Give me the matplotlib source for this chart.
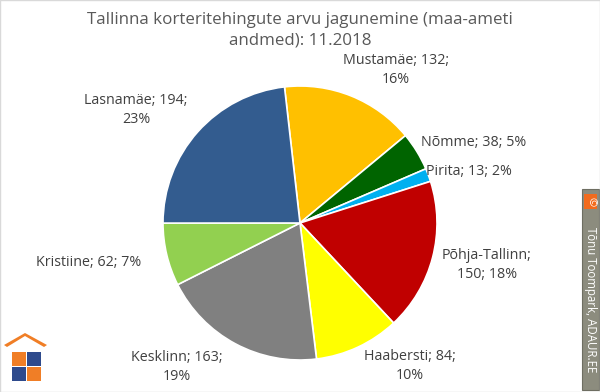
import matplotlib.pyplot as plt
from matplotlib.patches import Rectangle, Polygon

plt.rcParams['font.family'] = ['Open Sans', 'DejaVu Sans']

districts = ["Mustamäe", "Nõmme", "Pirita", "Põhja-Tallinn", "Haabersti",
             "Kesklinn", "Kristiine", "Lasnamäe"]
deals = [132, 38, 13, 150, 84, 163, 62, 194]
colors = ["#FFC000", "#006400", "#00B0F0", "#C00000", "#FFFF00",
          "#808080", "#92D050", "#335C8F"]

total = sum(deals)
pcts = [round(v * 100 / total) for v in deals]

fig = plt.figure(figsize=(6, 3.92), dpi=100)
W, H = 600, 392


def px(x, y):
    return x / W, 1 - y / H


# pie axes: center ~(300, 223) px, radius ~137 px
cx, cy, r = 300, 223, 137
ax = fig.add_axes([(cx - r) / W, (H - cy - r) / H, 2 * r / W, 2 * r / H])
ax.pie(deals, colors=colors, startangle=96.5, counterclock=False,
       wedgeprops=dict(edgecolor="white", linewidth=1.2))
ax.set_xlim(-1, 1)
ax.set_ylim(-1, 1)
ax.set_aspect("equal")
ax.axis("off")

fig.text(*px(300, 30), "Tallinna korteritehingute arvu jagunemine (maa-ameti\nandmed): 11.2018",
         ha="center", va="center", fontsize=12.2, color="#595959", linespacing=1.35)

# label layout: (x, y, lines)
label_pos = {
    "Mustamäe": (396, 70, 2),
    "Nõmme": (474, 142, 1),
    "Pirita": (469, 171, 1),
    "Põhja-Tallinn": (487, 265, 2),
    "Haabersti": (410, 366, 2),
    "Kesklinn": (177, 367, 2),
    "Kristiine": (89, 262, 1),
    "Lasnamäe": (136, 110, 2),
}
for name, v, p in zip(districts, deals, pcts):
    x, y, nl = label_pos[name]
    if nl == 1:
        s = f"{name}; {v}; {p}%"
    elif name == "Põhja-Tallinn":
        s = f"{name};\n{v}; {p}%"
    else:
        s = f"{name}; {v};\n{p}%"
    fig.text(*px(x, y), s, ha="center", va="center", fontsize=10.3,
             color="#404040", linespacing=1.3)

# watermark on the right
fig.patches.append(Rectangle(px(582, 390), 17 / W, 201 / H, transform=fig.transFigure,
                             facecolor="#8C8C7E", edgecolor="#6E6E62", lw=0.8))
fig.patches.append(Rectangle(px(584, 209), 13 / W, 15 / H, transform=fig.transFigure,
                             facecolor="#F26B1D", edgecolor="none"))
fig.text(*px(590.5, 201.5), "©", ha="center", va="center", fontsize=8,
         color="white", rotation=-90)
fig.text(*px(590.5, 300), "Tõnu Toompark, ADAUR.EE", ha="center", va="center",
         fontsize=8.3, color="white", rotation=-90)

# small logo bottom-left
fig.patches.append(Polygon([px(4, 345), px(25, 333), px(47, 345), px(44, 347),
                            px(25, 336), px(7, 347)], closed=True,
                           transform=fig.transFigure, facecolor="#F07E26", edgecolor="none"))
sq = [(12, 352, "#F07E26"), (27, 352, "#2E4A8C"), (12, 367, "#2E4A8C"), (27, 367, "#F07E26")]
for x0, y0, c in sq:
    fig.patches.append(Rectangle(px(x0, y0 + 14), 14 / W, 14 / H, transform=fig.transFigure,
                                 facecolor=c, edgecolor="none"))

fig.patches.append(Rectangle((0, 0), 1, 1, transform=fig.transFigure, fill=False,
                             edgecolor="#D9D9D9", lw=1))

fig.savefig("out.png", dpi=100)
